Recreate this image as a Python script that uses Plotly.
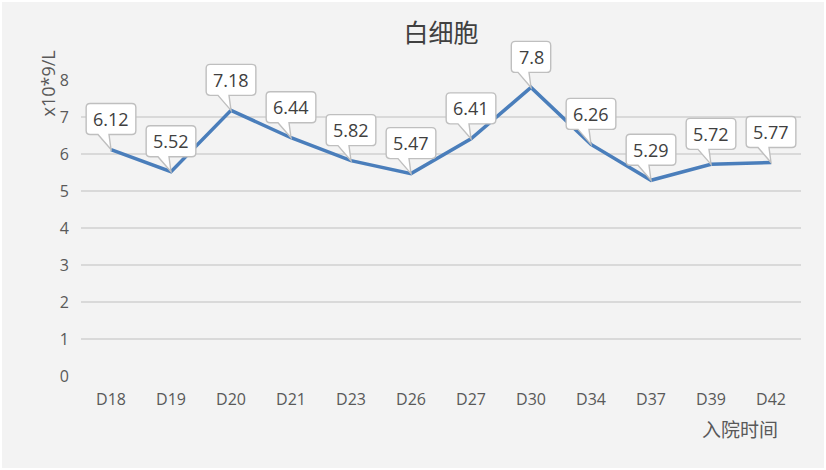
import plotly.graph_objects as go

categories = ["D18", "D19", "D20", "D21", "D23", "D26", "D27", "D30", "D34", "D37", "D39", "D42"]
values = [6.12, 5.52, 7.18, 6.44, 5.82, 5.47, 6.41, 7.8, 6.26, 5.29, 5.72, 5.77]
labels = ["6.12", "5.52", "7.18", "6.44", "5.82", "5.47", "6.41", "7.8", "6.26", "5.29", "5.72", "5.77"]
y_ticks = [0, 1, 2, 3, 4, 5, 6, 7, 8]

TITLE = "白细胞"
Y_TITLE = "x10*9/L"
X_TITLE = "入院时间"

W, H = 822, 466
ML, MR, MT, MB = 79, 23, 78, 92
PW = W - ML - MR
PH = H - MT - MB
YMAX = 8
N = len(categories)
XMIN, XMAX = -0.5, N - 0.5

BG = "#f3f3f3"
LINE = "#4a7ebb"
TXT = "#404040"
AX = "#595959"
GRID = "#d9d9d9"

fig = go.Figure()
fig.add_trace(go.Scatter(
    x=list(range(N)), y=values, mode="lines",
    line=dict(color=LINE, width=3.5), hoverinfo="skip", showlegend=False,
))

CHAR_W = {".": 4.8}
FS_LABEL = 18


def text_w(s):
    return sum(CHAR_W.get(c, 10.3) for c in s)


def to_paper_x(xv):
    return (xv - XMIN) / (XMAX - XMIN)


def to_paper_y(yv):
    return yv / YMAX


shapes = []
annotations = []
for i, (v, lab) in enumerate(zip(values, labels)):
    half = (text_w(lab) + 14) / 2
    L, R = -half, half
    B, T, r = 15, 46, 4
    w1, w2 = -13, -2
    px0, py0 = to_paper_x(i), to_paper_y(v)

    def P(px, py):
        return f"{px0 + px / PW:.5f},{py0 + py / PH:.5f}"

    path = (
        f"M {P(w2, B)} L {P(R - r, B)} Q {P(R, B)} {P(R, B + r)} "
        f"L {P(R, T - r)} Q {P(R, T)} {P(R - r, T)} "
        f"L {P(L + r, T)} Q {P(L, T)} {P(L, T - r)} "
        f"L {P(L, B + r)} Q {P(L, B)} {P(L + r, B)} "
        f"L {P(w1, B)} L {P(0, 0)} Z"
    )
    shapes.append(dict(type="path", path=path, xref="paper", yref="paper",
                       fillcolor="white", line=dict(color="#bfbfbf", width=1.4),
                       layer="above"))
    annotations.append(dict(x=i, y=v, xref="x", yref="y", text=lab, showarrow=False,
                            xanchor="center", yanchor="middle",
                            yshift=(B + T) / 2, xshift=(L + R) / 2,
                            font=dict(family="Open Sans", size=FS_LABEL, color=TXT)))

annotations.append(dict(x=(47 - 2 - ML) / PW, y=(MT + PH - (83.5 - 2)) / PH, xref="paper", yref="paper",
                        xanchor="center", yanchor="middle",
                        text=Y_TITLE, textangle=-90, showarrow=False,
                        font=dict(family="Open Sans", size=18, color=AX)))
annotations.append(dict(x=(740 - 2 - ML) / PW, y=(MT + PH - (428 - 2)) / PH, xref="paper", yref="paper",
                        xanchor="center", yanchor="middle",
                        text=X_TITLE, showarrow=False,
                        font=dict(family="Noto Sans CJK SC", size=19, color=AX)))

fig.update_layout(
    width=W, height=H,
    margin=dict(l=ML, r=MR, t=MT, b=MB),
    paper_bgcolor=BG, plot_bgcolor=BG,
    title=dict(text=TITLE, x=0.5, xanchor="center", xref="paper",
               y=1 - (33 - 2) / H, yref="container", yanchor="middle",
               font=dict(family="Noto Sans CJK SC", size=25, color=TXT)),
    shapes=shapes, annotations=annotations,
    xaxis=dict(range=[XMIN, XMAX], tickmode="array",
               tickvals=list(range(N)), ticktext=categories,
               showgrid=False, zeroline=False, showline=False, ticks="",
               ticklabelstandoff=12,
               tickfont=dict(family="Open Sans", size=16, color=AX), fixedrange=True),
    yaxis=dict(range=[0, YMAX], tickvals=y_ticks, showgrid=True, gridcolor=GRID,
               gridwidth=1.5, zeroline=False, showline=False, ticks="",
               ticklabelstandoff=11,
               tickfont=dict(family="Open Sans", size=16, color=AX), fixedrange=True),
)

fig.write_html("out.html", config={"displayModeBar": False},
               post_script="document.body.style.margin='2px';")
